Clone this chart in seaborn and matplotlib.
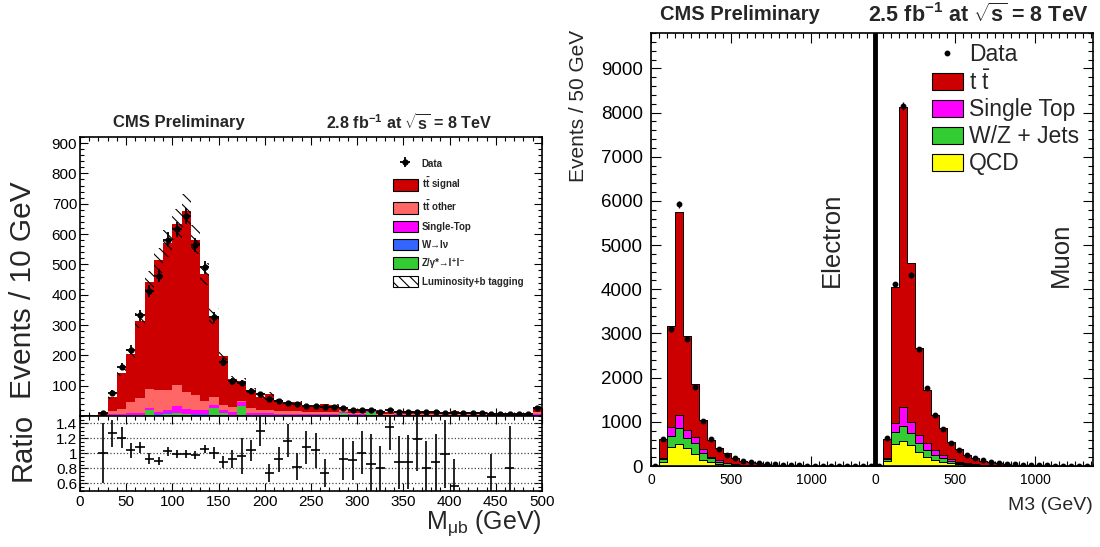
import numpy as np
import pandas as pd
import matplotlib
matplotlib.use("Agg")
import matplotlib.pyplot as plt
from matplotlib.patches import Patch
from matplotlib.lines import Line2D
from matplotlib.ticker import MultipleLocator, FixedLocator, FixedFormatter
import seaborn as sns

# left plot: M_mub, 10 GeV bins from 0 to 500
mub_edges = np.arange(0, 501, 10)
mub_centers = mub_edges[:-1] + 5
mub_data = [0, 0, 9, 76, 163, 218, 332, 412, 463, 582,
            616, 659, 564, 490, 326, 178, 114, 109, 84, 72,
            57, 48, 44, 39, 33, 32, 31, 31, 25, 21,
            21, 19, 14, 19, 14, 14, 14, 12, 12, 11,
            10, 10, 9, 9, 8, 8, 7, 7, 6, 28]
mub_signal = [0, 0, 7, 47, 118, 160, 255, 355, 427, 482,
              529, 597, 512, 420, 269, 164, 94, 65, 59, 41,
              52, 35, 26, 30, 20, 18, 26, 24, 9, 12,
              12, 3, 10, 7, 7, 10, 6, 9, 8, 5,
              11, 8, 7, 7, 6, 6, 4, 5, 5, 16]
mub_other = [0, 0, 2, 7, 16, 36, 50, 60, 75, 66,
             71, 58, 51, 29, 25, 16, 16, 4, 14, 12,
             11, 10, 9, 8, 7, 7, 6, 6, 5, 5,
             4, 4, 4, 4, 3, 3, 3, 3, 3, 3,
             3, 2, 2, 2, 2, 2, 2, 2, 2, 6]
mub_singletop = [0, 0, 0, 5, 5, 6, 6, 8, 7, 12,
                 21, 15, 14, 14, 10, 10, 9, 14, 7, 6,
                 6, 5, 5, 5, 4, 4, 4, 4, 4, 3,
                 3, 3, 2, 2, 2, 2, 2, 2, 2, 2,
                 2, 2, 2, 2, 2, 2, 2, 2, 2, 5]
mub_wlnu = [0, 0, 0, 0, 0, 0, 0, 0, 1, 1,
            1, 1, 1, 1, 1, 0, 0, 0, 0, 0,
            0, 0, 0, 0, 0, 0, 0, 0, 0, 0,
            0, 0, 0, 0, 0, 0, 0, 0, 0, 0,
            0, 0, 0, 0, 0, 0, 0, 0, 0, 0]
mub_zll = [0, 0, 0, 3, 3, 3, 3, 20, 4, 8,
           10, 6, 4, 4, 25, 9, 4, 33, 4, 3,
           3, 2, 2, 2, 2, 2, 2, 2, 10, 2,
           2, 12, 1, 1, 4, 1, 1, 1, 1, 1,
           1, 1, 1, 1, 1, 1, 1, 1, 1, 3]
nan = np.nan
mub_ratio = [nan, nan, 1.01, 1.27, 1.21, 1.04, 1.08, 0.93, 0.90, 1.03,
             0.99, 0.99, 0.98, 1.06, 1.00, 0.88, 0.93, 0.96, 1.04, 1.30,
             0.74, 0.92, 1.17, 0.82, 1.08, 1.04, 0.74, nan, 0.92, 0.91,
             1.01, 0.86, 0.80, 1.35, 0.88, 0.89, 1.19, 0.81, 0.88, 0.99,
             0.56, nan, nan, nan, 0.69, nan, 0.81, nan, nan, nan]
mub_ratio_err = [nan, nan, 0.40, 0.18, 0.14, 0.10, 0.07, 0.07, 0.055, 0.06,
                 0.055, 0.055, 0.055, 0.055, 0.08, 0.08, 0.12, 0.24, 0.14, 0.20,
                 0.12, 0.17, 0.22, 0.18, 0.22, 0.23, 0.19, nan, 0.28, 0.26,
                 0.29, 0.40, 0.30, 0.30, 0.35, 0.36, 0.42, 0.36, 0.38, 0.45,
                 0.37, nan, nan, nan, 0.30, nan, 0.55, nan, nan, nan]
lumi_btag_unc = 0.08

# right plot: M3, 50 GeV bins, electron 0-1400 then muon 0-1400
m3_bin = 50
m3_offset = 1400
e_data = [0, 603, 3093, 5921, 2874, 1795, 1018, 603, 385, 249, 174, 121, 90, 60,
          45, 35, 25, 20, 15, 12, 10, 8, 6, 5, 0, 4, 0, 3]
e_tt = [0, 422, 2279, 4586, 2134, 1184, 664, 384, 279, 207, 139, 95, 70, 49,
        36, 26, 20, 15, 11, 9, 7, 5, 4, 3, 3, 2, 2, 1]
e_singletop = [0, 25, 199, 301, 174, 151, 75, 38, 38, 20, 15, 8, 6, 4,
               3, 2, 1, 1, 0, 0, 0, 0, 0, 0, 0, 0, 0, 0]
e_wzjets = [0, 62, 249, 355, 241, 249, 166, 90, 53, 35, 20, 12, 8, 5,
            3, 2, 2, 1, 1, 0, 0, 0, 0, 0, 0, 0, 0, 0]
e_qcd = [0, 98, 441, 498, 400, 264, 136, 83, 45, 25, 15, 10, 6, 4,
         3, 2, 1, 1, 1, 0, 0, 0, 0, 0, 0, 0, 0, 0]
m_data = [0, 626, 4111, 8154, 4322, 2640, 1773, 1154, 830, 528, 362, 249, 174, 136,
          98, 70, 50, 40, 30, 22, 18, 14, 10, 8, 6, 5, 4, 3]
m_tt = [0, 422, 3077, 6789, 3583, 1962, 1192, 800, 604, 400, 282, 189, 136, 96,
        74, 55, 40, 30, 22, 17, 13, 10, 8, 6, 5, 4, 3, 2]
m_singletop = [0, 30, 219, 422, 249, 188, 166, 105, 75, 30, 20, 15, 10, 7,
               4, 2, 2, 1, 0, 0, 0, 0, 0, 0, 0, 0, 0, 0]
m_wzjets = [0, 38, 257, 332, 279, 189, 151, 113, 91, 61, 40, 25, 16, 10,
            7, 5, 3, 2, 1, 0, 0, 0, 0, 0, 0, 0, 0, 0]
m_qcd = [0, 113, 505, 573, 475, 324, 211, 136, 83, 60, 35, 20, 12, 8,
         5, 3, 2, 1, 0, 0, 0, 0, 0, 0, 0, 0, 0, 0]

left_colors = {"signal": "#cc0000", "other": "#ff6666", "singletop": "#ff00ff",
               "wlnu": "#3366ff", "zll": "#33cc33"}
right_colors = {"tt": "#cc0000", "singletop": "#ff00ff", "wzjets": "#33cc33", "qcd": "#ffff00"}


def long_frame(centers, comps):
    rows = []
    for name, vals in comps.items():
        rows.append(pd.DataFrame({"x": centers, "w": vals, "proc": name}))
    return pd.concat(rows, ignore_index=True)


def root_ticks(ax, major, minor):
    ax.tick_params(which="both", direction="in", top=True, right=True, width=0.8,
                   color="black", labelcolor="black")
    ax.tick_params(which="major", length=major)
    ax.tick_params(which="minor", length=minor)
    for s in ax.spines.values():
        s.set_linewidth(1.2)
        s.set_color("black")


sns.set_theme(style="ticks")
plt.rcParams["font.family"] = ["Liberation Sans", "DejaVu Sans"]
plt.rcParams["mathtext.fontset"] = "custom"
plt.rcParams["mathtext.rm"] = "Liberation Sans"
plt.rcParams["mathtext.it"] = "Liberation Sans:italic"
plt.rcParams["mathtext.bf"] = "Liberation Sans:bold"
plt.rcParams["hatch.linewidth"] = 0.8

fig = plt.figure(figsize=(11, 5.47), dpi=100)
ax_main = fig.add_axes([0.0727, 0.2395, 0.42, 0.51])
ax_ratio = fig.add_axes([0.0727, 0.1024, 0.42, 0.1371], sharex=ax_main)
ax_r = fig.add_axes([0.5918, 0.148, 0.4018, 0.7916])

# ---- left main panel
left_comps = {"signal": mub_signal, "other": mub_other, "singletop": mub_singletop,
              "wlnu": mub_wlnu, "zll": mub_zll}
df_left = long_frame(mub_centers, left_comps)
sns.histplot(data=df_left, x="x", weights="w", hue="proc", hue_order=list(left_comps),
             palette=left_colors, multiple="stack", bins=mub_edges.tolist(), element="step",
             fill=True, alpha=1, linewidth=0, legend=False, ax=ax_main)

total = np.sum([np.array(v, float) for v in left_comps.values()], axis=0)
lo = total * (1 - lumi_btag_unc)
hi = total * (1 + lumi_btag_unc)
ax_main.fill_between(mub_edges, np.append(lo, lo[-1]), np.append(hi, hi[-1]), step="post",
                     facecolor="none", edgecolor="black", hatch="\\\\\\", linewidth=0, zorder=3)

data = np.array(mub_data, float)
mask = data > 0
data_eb = ax_main.errorbar(mub_centers[mask], data[mask], xerr=5, yerr=np.sqrt(data[mask]),
                           fmt="o", ms=3.5, color="black", elinewidth=1.3, capsize=0, zorder=5)

ax_main.set_xlim(0, 500)
ax_main.set_ylim(0, 920)
ax_main.set_xlabel("")
ax_main.set_ylabel("")
ax_main.yaxis.set_major_locator(FixedLocator(range(100, 901, 100)))
ax_main.yaxis.set_minor_locator(MultipleLocator(20))
ax_main.xaxis.set_major_locator(MultipleLocator(50))
ax_main.xaxis.set_minor_locator(MultipleLocator(10))
root_ticks(ax_main, 6, 3)
ax_main.tick_params(labelbottom=False, labelsize=11, pad=2)

left_handles = [data_eb,
                Patch(facecolor=left_colors["signal"], edgecolor="black", lw=0.8),
                Patch(facecolor=left_colors["other"], edgecolor="black", lw=0.8),
                Patch(facecolor=left_colors["singletop"], edgecolor="black", lw=0.8),
                Patch(facecolor=left_colors["wlnu"], edgecolor="black", lw=0.8),
                Patch(facecolor=left_colors["zll"], edgecolor="black", lw=0.8),
                Patch(facecolor="white", edgecolor="black", lw=0.8, hatch="\\\\\\")]
left_labels = ["Data", r"$\mathbf{t\bar{t}}$ signal", r"$\mathbf{t\bar{t}}$ other",
               "Single-Top", "W→lν", "Z/γ*→l⁺l⁻", "Luminosity+b tagging"]
fig.legend(left_handles, left_labels, loc="upper left", bbox_to_anchor=(0.357, 0.712),
           frameon=False, borderpad=0, borderaxespad=0, handlelength=2.6, handleheight=1.45,
           labelspacing=0.7, handletextpad=0.4, prop={"size": 7, "weight": "bold"})

# ---- ratio panel
for g in [0.6, 0.8, 1.0, 1.2, 1.4]:
    ax_ratio.axhline(g, color="#444444", ls=":", lw=0.9, zorder=1)
ax_ratio.errorbar(mub_centers, mub_ratio, xerr=5, yerr=mub_ratio_err, fmt="none",
                  ecolor="black", elinewidth=1.2, capsize=0, zorder=4)
ax_ratio.set_ylim(0.5, 1.5)
ax_ratio.yaxis.set_major_locator(FixedLocator([0.6, 0.8, 1.0, 1.2, 1.4]))
ax_ratio.yaxis.set_major_formatter(FixedFormatter(["0.6", "0.8", "1", "1.2", "1.4"]))
ax_ratio.yaxis.set_minor_locator(MultipleLocator(0.05))
root_ticks(ax_ratio, 6, 3)
ax_ratio.tick_params(labelsize=11, pad=3)
ax_ratio.tick_params(axis="y", pad=2)

fig.text(23 / 1100, 1 - 290 / 547, "Events / 10 GeV", rotation=90, ha="center", va="center",
         fontsize=21.5)
fig.text(23 / 1100, 1 - 447 / 547, "Ratio", rotation=90, ha="center", va="center", fontsize=21)
fig.text(542 / 1100, 1 - 523 / 547, r"M$_{\mathrm{\mu b}}$ (GeV)", ha="right", va="center", fontsize=18)
fig.text(179 / 1100, 1 - 123 / 547, "CMS Preliminary", ha="center", va="center",
         fontsize=12, weight="bold")
fig.text(409 / 1100, 1 - 123 / 547, r"2.8 fb$^{\mathbf{-1}}$ at $\sqrt{\mathbf{s}}$ = 8 TeV",
         ha="center", va="center", fontsize=11.6, weight="bold")

# ---- right panel
e_centers = np.arange(len(e_data)) * m3_bin + m3_bin / 2
m_centers = e_centers + m3_offset
right_comps = {"tt": e_tt + m_tt, "singletop": e_singletop + m_singletop,
               "wzjets": e_wzjets + m_wzjets, "qcd": e_qcd + m_qcd}
m3_centers = np.concatenate([e_centers, m_centers])
m3_edges = list(range(0, 2 * m3_offset + 1, m3_bin))
df_right = long_frame(m3_centers, right_comps)
sns.histplot(data=df_right, x="x", weights="w", hue="proc", hue_order=list(right_comps),
             palette=right_colors, multiple="stack", bins=m3_edges, element="step",
             fill=True, alpha=1, linewidth=0.7, edgecolor="black", legend=False, ax=ax_r)

rdata = np.array(e_data + m_data, float)
data_r = ax_r.errorbar(m3_centers, rdata, yerr=np.sqrt(rdata), fmt="o", ms=3.2,
                       color="black", elinewidth=0.9, capsize=0, zorder=5)
ax_r.axvline(m3_offset, color="black", lw=3.5, zorder=6)

ax_r.set_xlim(0, 2760)
ax_r.set_ylim(0, 9800)
ax_r.set_xlabel("")
ax_r.set_ylabel("")
ax_r.yaxis.set_major_locator(MultipleLocator(1000))
ax_r.yaxis.set_minor_locator(MultipleLocator(200))
ax_r.xaxis.set_major_locator(FixedLocator([0, 500, 1000, 1400, 1900, 2400]))
ax_r.xaxis.set_major_formatter(FixedFormatter(["0", "500", "1000", "0", "500", "1000"]))
ax_r.xaxis.set_minor_locator(MultipleLocator(50))
root_ticks(ax_r, 7, 3.5)
ax_r.tick_params(axis="y", labelsize=13.5, pad=6)
ax_r.tick_params(axis="x", labelsize=10, pad=5)

right_handles = [Line2D([], [], marker="o", ms=3.2, color="black", ls="none"),
                 Patch(facecolor=right_colors["tt"], edgecolor="black", lw=0.8),
                 Patch(facecolor=right_colors["singletop"], edgecolor="black", lw=0.8),
                 Patch(facecolor=right_colors["wzjets"], edgecolor="black", lw=0.8),
                 Patch(facecolor=right_colors["qcd"], edgecolor="black", lw=0.8)]
right_labels = ["Data", r"t $\mathrm{\bar{t}}$", "Single Top", "W/Z + Jets", "QCD"]
fig.legend(right_handles, right_labels, loc="upper left", bbox_to_anchor=(0.847, 0.921),
           frameon=False, borderpad=0, borderaxespad=0, handlelength=1.35, handleheight=0.78,
           labelspacing=0.17, handletextpad=0.27, fontsize=16.5)

fig.text(832 / 1100, 1 - 240 / 547, "Electron", rotation=90, ha="center", va="center", fontsize=18.5)
fig.text(1061 / 1100, 1 - 255 / 547, "Muon", rotation=90, ha="center", va="center", fontsize=18.5)
fig.text(578 / 1100, 1 - 30 / 547, "Events / 50 GeV", rotation=90, ha="center", va="top", fontsize=15)
fig.text(1093 / 1100, 1 - 505 / 547, "M3 (GeV)", ha="right", va="center", fontsize=14)
fig.text(740 / 1100, 1 - 15 / 547, "CMS Preliminary", ha="center", va="center",
         fontsize=14.5, weight="bold")
fig.text(979 / 1100, 1 - 15 / 547, r"2.5 fb$^{\mathbf{-1}}$ at $\sqrt{\mathbf{s}}$ = 8 TeV",
         ha="center", va="center", fontsize=15.5, weight="bold")

fig.savefig("out.png", dpi=100)
